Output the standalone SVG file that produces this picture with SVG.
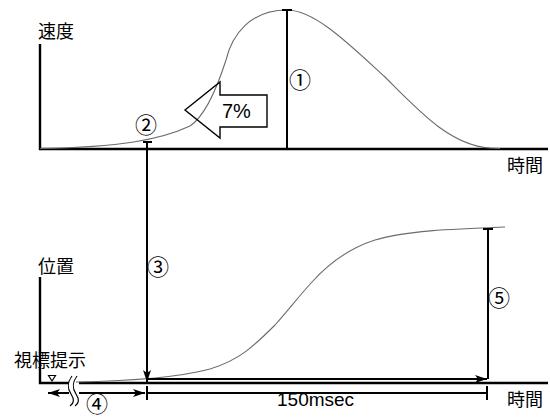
<svg xmlns="http://www.w3.org/2000/svg" width="550" height="418" viewBox="0 0 550 418">
<style>
.axis{stroke:#000;stroke-width:2.4;fill:none}
.dim{stroke:#000;stroke-width:2;fill:none}
.curve{stroke:#6b6b6b;stroke-width:1.1;fill:none}
.lbl{font-family:"Noto Sans CJK JP","Noto Sans",sans-serif;font-size:18px;fill:#000}
.num{font-family:"Noto Sans CJK JP","DejaVu Sans",sans-serif;font-size:22px;fill:#000;text-anchor:middle}
.lat{font-family:"Liberation Sans",Arial,sans-serif;fill:#000}
</style>
<defs>
<marker id="ah" viewBox="0 0 12 8" refX="12" refY="4" markerWidth="12" markerHeight="8" markerUnits="userSpaceOnUse" orient="auto-start-reverse">
<path d="M0,0 L12,4 L0,8 L3,4 Z" fill="#000"/>
</marker>
</defs>
<rect width="550" height="418" fill="#fff"/>

<g id="velocity-graph">
<polyline class="axis" points="40,44 40,149 548,149"/>
<path class="curve" d="M40,148.5 C120,147 160,140 190,126 C205,116 218,85 226,60 C232,35 250,10 287,10 C315,10 350,45 385,77 C420,112 450,145 490,148 L500,148.5"/>
<text class="lbl" x="38" y="38">速度</text>
<text class="lbl" x="507" y="172">時間</text>
</g>

<g id="position-graph">
<polyline class="axis" points="40,277 40,383 69,383"/>
<line class="axis" x1="79" y1="383" x2="548" y2="383"/>
<path class="curve" d="M76,382 C130,381 180,377 210,369 C240,360 255,345 275,325 C290,308 300,295 312,282 C330,262 350,248 375,240 C405,231 450,229 505,227"/>
<text class="lbl" x="38" y="273">位置</text>
<text class="lbl" x="14" y="367">視標提示</text>
<path d="M48.5,375.5 L55.5,375.5 L52,381 Z" fill="none" stroke="#000" stroke-width="1.2"/>
<text class="lbl" x="507" y="406">時間</text>
</g>

<g id="break">
<path d="M72,376 C67,383 67,388 71,394 C75,400 73,404 70,406" fill="none" stroke="#000" stroke-width="1.2"/>
<path d="M77,376 C72,383 72,388 76,394 C80,400 78,404 75,406" fill="none" stroke="#000" stroke-width="1.2"/>
</g>

<g id="marker-7pct">
<path d="M185,110 L220,82 L220,95 L267,95 L267,127 L220,127 L220,138 Z" fill="none" stroke="#000" stroke-width="1.4"/>
<text class="lat" x="222" y="118" font-size="20">7%</text>
</g>

<g id="connectors">
<line class="dim" x1="287" y1="10" x2="287" y2="149"/>
<line class="dim" x1="282" y1="10" x2="292" y2="10"/>
<line class="dim" x1="143" y1="142" x2="152" y2="142"/>
<line class="dim" x1="147" y1="142" x2="147" y2="382" marker-end="url(#ah)"/>
<line class="dim" x1="147" y1="379" x2="487" y2="379" marker-end="url(#ah)"/>
<line class="dim" x1="488" y1="229" x2="488" y2="379"/>
<line class="dim" x1="483" y1="229" x2="493" y2="229"/>
<line class="dim" x1="147" y1="393" x2="487" y2="393"/>
<line class="dim" x1="147" y1="386" x2="147" y2="400"/>
<line class="dim" x1="487" y1="386" x2="487" y2="400"/>
<line class="dim" x1="69" y1="393" x2="48" y2="393" marker-end="url(#ah)"/>
<line class="dim" x1="79" y1="393" x2="145" y2="393" marker-end="url(#ah)"/>
</g>

<g id="labels">
<text class="num" x="300" y="88">①</text>
<text class="num" x="146" y="133">②</text>
<text class="num" x="158" y="275">③</text>
<text class="num" x="97" y="412">④</text>
<text class="num" x="499" y="306">⑤</text>
<text class="lat" x="277" y="406" font-size="19">150msec</text>
</g>
</svg>
